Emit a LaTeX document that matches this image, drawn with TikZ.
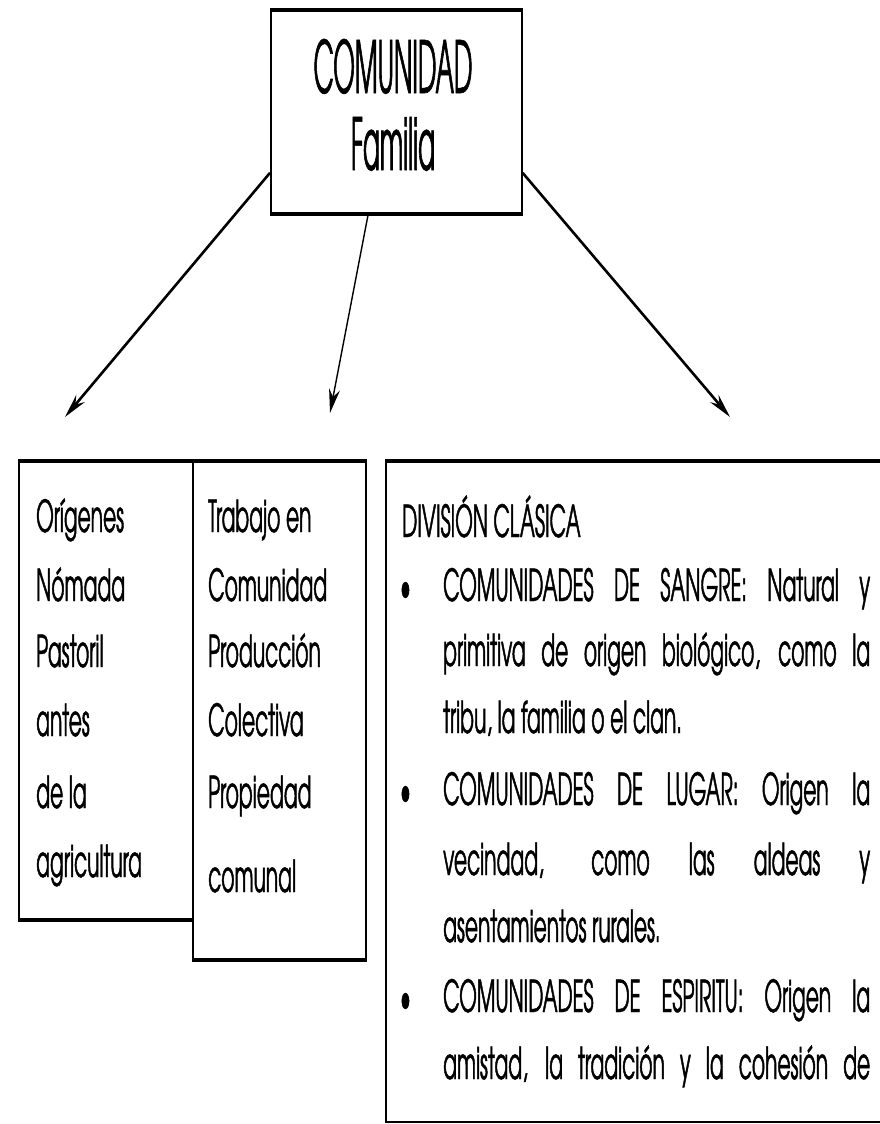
\documentclass[tikz,border=0pt]{standalone}
\usepackage{fontspec}
\usetikzlibrary{arrows.meta}
\newfontfamily\headfont[FakeStretch=0.345,FakeBold=0.8]{texgyreadventor-regular.otf}
\newfontfamily\bodyfont[FakeStretch=0.46,FakeBold=1.0]{texgyreadventor-regular.otf}
\tikzset{
  box/.style={draw, line width=1.6pt, inner sep=0pt, anchor=north west},
  rim/.style={line width=4pt},
  head/.style={anchor=base, inner sep=0pt, font=\headfont\fontsize{72}{77}\selectfont},
  txt/.style={anchor=base west, inner sep=0pt, font=\bodyfont\fontsize{44}{59}\selectfont},
  link/.style={line width=2.6pt, -{Stealth[length=24pt,width=11pt]}}
}
\newcommand{\jline}[1]{\makebox[427pt][s]{#1}}
\begin{document}
\begin{tikzpicture}[x=1pt, y=-1pt]
\clip (0,0) rectangle (880,1124);
\fill[white] (0,0) rectangle (880,1124);
% top box
\node[box, minimum width=251pt, minimum height=202pt] (com) at (270,10) {};
\draw[rim] (com.north west) -- (com.north east);
\draw[rim] (com.south west) -- (com.south east);
\node[head] (comA) at (393,93) {COMUNIDAD};
\node[head] (comB) at (393,170) {Familia};
% arrows
\coordinate (tipA) at (65,417);
\coordinate (tipB) at (330,413);
\coordinate (tipC) at (730,417);
\draw[link] ([yshift=-61pt]com.west) -- (tipA);
\draw[link, line width=1.4pt] ([xshift=-28pt]com.south) -- (tipB);
\draw[link] ([yshift=-61pt]com.east) -- (tipC);
% left box
\node[box, minimum width=174pt, minimum height=457pt] (orig) at (18,461) {};
\draw[rim] (orig.north west) -- (orig.north east);
\draw[rim] (orig.south west) -- (orig.south east);
\node[txt] (o1) at (36,532) {Orígenes};
\node[txt] (o2) at (36,601) {Nómada};
\node[txt] (o3) at (36,667) {Pastoril};
\node[txt] (o4) at (36,736) {antes};
\node[txt] (o5) at (36,808) {de la};
\node[txt] (o6) at (36,877) {agricultura};
% middle box
\node[box, minimum width=173pt, minimum height=497pt] (trab) at (192,461) {};
\draw[rim] (trab.north west) -- (trab.north east);
\draw[rim] (trab.south west) -- (trab.south east);
\node[txt] (t1) at (208,532) {Trabajo en};
\node[txt] (t2) at (208,601) {Comunidad};
\node[txt] (t3) at (208,667) {Producción};
\node[txt] (t4) at (208,736) {Colectiva};
\node[txt] (t5) at (208,808) {Propiedad};
\node[txt] (t6) at (208,892) {comunal};
% right box
\node[box, minimum width=520pt, minimum height=660pt] (div) at (385,461) {};
\draw[rim] (div.north west) -- (div.north east);
\draw[box] (div.south west) -- (div.south east);
\node[txt] (d0) at (402,537) {DIVISIÓN CLÁSICA};
\node[txt] (b1) at (400,601) {\textbullet};
\node[txt] (d1) at (443,601) {\jline{COMUNIDADES DE SANGRE: Natural y}};
\node[txt] (d2) at (443,666) {\jline{primitiva de origen biológico, como la}};
\node[txt] (d3) at (443,733) {tribu, la familia o el clan.};
\node[txt] (b2) at (400,805) {\textbullet};
\node[txt] (d4) at (443,805) {\jline{COMUNIDADES DE LUGAR: Origen la}};
\node[txt] (d5) at (443,875) {\jline{vecindad, como las aldeas y}};
\node[txt] (d6) at (443,942) {asentamientos rurales.};
\node[txt] (b3) at (400,1012) {\textbullet};
\node[txt] (d7) at (443,1012) {\jline{COMUNIDADES DE ESPIRITU: Origen la}};
\node[txt] (d8) at (443,1079) {\jline{amistad, la tradición y la cohesión de}};
\end{tikzpicture}
\end{document}
